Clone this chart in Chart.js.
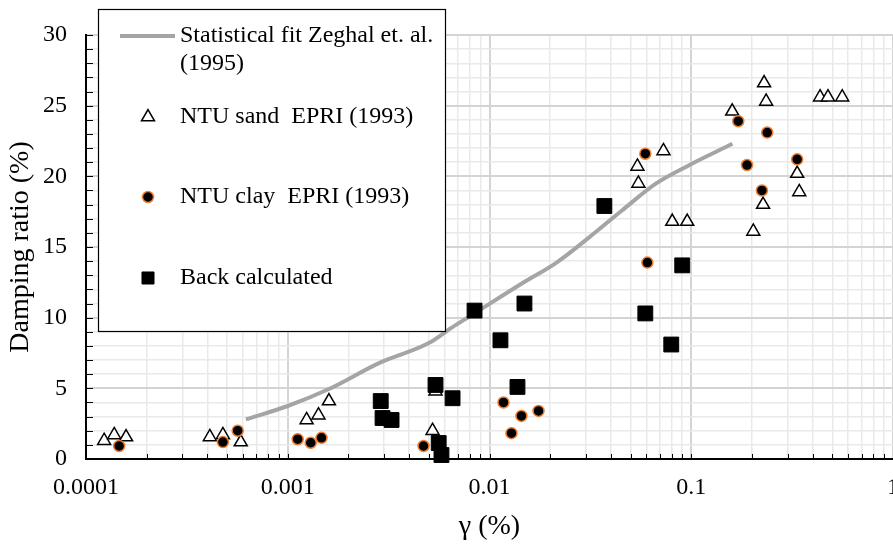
<!DOCTYPE html>
<html>
<head>
<meta charset="utf-8">
<script src="https://cdn.jsdelivr.net/npm/chart.js@4/dist/chart.umd.min.js"></script>
<style>
  html, body { margin: 0; padding: 0; background: #fff; }
  #wrap { width: 893px; height: 544px; }
</style>
</head>
<body>
<div id="wrap"><canvas id="damping"></canvas></div>
<script>
// shear strain (%) vs damping ratio (%)
const fitGamma   = [0.00062, 0.001, 0.0016, 0.00285, 0.005, 0.0065, 0.0082, 0.0146, 0.0215, 0.0313, 0.0455, 0.067, 0.098, 0.16];
const fitDamping = [2.8, 3.75, 4.95, 6.8, 8.2, 9.3, 10.2, 12.45, 13.9, 15.7, 17.6, 19.5, 20.8, 22.3];

const sandGamma   = [0.000123, 0.000138, 0.000158, 0.000411, 0.000477, 0.000585, 0.00124, 0.00142, 0.0016, 0.00522, 0.0054,
                     0.0541, 0.0547, 0.0728, 0.0805, 0.0955, 0.1596, 0.203, 0.227, 0.2297, 0.235, 0.335, 0.343, 0.435, 0.476, 0.56];
const sandDamping = [1.3, 1.7, 1.55, 1.56, 1.7, 1.2, 2.76, 3.1, 4.1, 2.0, 4.8,
                     20.7, 19.5, 21.8, 16.8, 16.8, 24.6, 16.1, 18.0, 26.6, 25.3, 20.2, 18.9, 25.6, 25.6, 25.6];

const clayGamma   = [0.000146, 0.000477, 0.000565, 0.00112, 0.0013, 0.00147, 0.00471, 0.01173, 0.01285, 0.0144, 0.0175,
                     0.0592, 0.0606, 0.171, 0.189, 0.224, 0.238, 0.335];
const clayDamping = [0.92, 1.2, 2.0, 1.4, 1.15, 1.5, 0.92, 4.0, 1.83, 3.05, 3.4,
                     21.6, 13.9, 23.9, 20.8, 19.0, 23.1, 21.2];

const backGamma   = [0.00289, 0.00295, 0.00327, 0.0054, 0.0056, 0.00578, 0.00656, 0.00843, 0.01133, 0.01376, 0.0149,
                     0.0371, 0.0592, 0.0796, 0.0902];
const backDamping = [4.1, 2.9, 2.76, 5.24, 1.13, 0.28, 4.3, 10.5, 8.4, 5.1, 11.0,
                     17.9, 10.3, 8.1, 13.7];

const legendLines = [
  ['Statistical fit Zeghal et. al.', '(1995)'],
  ['NTU sand  EPRI (1993)'],
  ['NTU clay  EPRI (1993)'],
  ['Back calculated']
];

const xTickLabels = ['0.0001', '0.001', '0.01', '0.1', '1'];
const xDecades = [-4, -3, -2, -1];
const yMax = 30;

const FONT = "'Liberation Serif', 'Times New Roman', serif";
const FONT_SIZE = 24;
const TITLE_SIZE = 28;
const toPoints = (xs, ys) => xs.map((v, i) => ({ x: v, y: ys[i] }));

// grid/tick positions: 1..9 per decade on x, every unit on y
const xTickValues = [];
xDecades.forEach(e => { for (let m = 1; m <= 9; m++) xTickValues.push(+(m * Math.pow(10, e)).toPrecision(6)); });
xTickValues.push(1);
const yTickValues = Array.from({ length: yMax + 1 }, (_, i) => i);

const isDecade = v => Math.abs(Math.log10(v) - Math.round(Math.log10(v))) < 1e-9;

// small inward tick marks on both axes
const tickMarks = {
  id: 'tickMarks',
  afterDraw(chart) {
    const { ctx, chartArea, scales: { x, y } } = chart;
    ctx.save();
    ctx.strokeStyle = '#000';
    ctx.lineWidth = 1;
    ctx.beginPath();
    x.ticks.forEach((t, i) => {
      const px = Math.round(x.getPixelForTick(i)) + 0.5;
      ctx.moveTo(px, chartArea.bottom);
      ctx.lineTo(px, chartArea.bottom - 5);
    });
    y.ticks.forEach((t, i) => {
      const py = Math.round(y.getPixelForTick(i)) + 0.5;
      ctx.moveTo(chartArea.left, py);
      ctx.lineTo(chartArea.left + 7, py);
    });
    ctx.stroke();
    ctx.restore();
  }
};

// boxed legend sitting over the upper-left of the plot
const boxLegend = {
  id: 'boxLegend',
  afterDraw(chart) {
    const ctx = chart.ctx;
    const box = { left: 98, top: 9, right: 445, bottom: 331 };
    const rows = [36, 117, 197, 278];
    const markX = 148, textX = 180;
    ctx.save();
    ctx.fillStyle = '#fff';
    ctx.fillRect(box.left, box.top, box.right - box.left, box.bottom - box.top);
    ctx.strokeStyle = '#000';
    ctx.lineWidth = 1.2;
    ctx.strokeRect(box.left + 0.5, box.top + 0.5, box.right - box.left, box.bottom - box.top);

    chart.data.datasets.forEach(ds => {
      const yRow = rows[ds.legendRow];
      if (ds.showLine) {
        ctx.strokeStyle = ds.borderColor;
        ctx.lineWidth = ds.borderWidth;
        ctx.beginPath();
        ctx.moveTo(120, yRow);
        ctx.lineTo(175, yRow);
        ctx.stroke();
      } else {
        ctx.fillStyle = ds.backgroundColor;
        ctx.strokeStyle = ds.borderColor;
        ctx.lineWidth = ds.borderWidth;
        Chart.helpers.drawPoint(ctx, {
          pointStyle: ds.pointStyle,
          radius: ds.legendRadius,
          rotation: 0,
          borderWidth: ds.borderWidth
        }, markX, yRow);
      }
      ctx.fillStyle = '#000';
      ctx.font = FONT_SIZE + 'px ' + FONT;
      ctx.textBaseline = 'middle';
      ctx.textAlign = 'left';
      legendLines[ds.legendRow].forEach((line, k) => {
        ctx.fillText(line, textX, yRow + k * 28);
      });
    });
    ctx.restore();
  }
};

new Chart(document.getElementById('damping'), {
  type: 'scatter',
  data: {
    datasets: [
      {
        label: legendLines[0].join(' '),
        legendRow: 0,
        data: toPoints(fitGamma, fitDamping),
        showLine: true,
        borderColor: '#a5a5a5',
        borderWidth: 4,
        pointRadius: 0,
        cubicInterpolationMode: 'monotone',
        order: 3
      },
      {
        label: legendLines[1][0],
        legendRow: 1,
        data: toPoints(sandGamma, sandDamping),
        pointStyle: 'triangle',
        pointRadius: 7.5,
        legendRadius: 7.5,
        backgroundColor: '#fff',
        borderColor: '#000',
        borderWidth: 1.5,
        order: 2
      },
      {
        label: legendLines[2][0],
        legendRow: 2,
        data: toPoints(clayGamma, clayDamping),
        pointStyle: 'circle',
        pointRadius: 5.5,
        legendRadius: 5.5,
        backgroundColor: '#000',
        borderColor: '#ed7d31',
        borderWidth: 1.5,
        order: 1
      },
      {
        label: legendLines[3][0],
        legendRow: 3,
        data: toPoints(backGamma, backDamping),
        pointStyle: 'rect',
        pointRadius: 10.5,
        legendRadius: 8.5,
        backgroundColor: '#000',
        borderColor: '#000',
        borderWidth: 1,
        clip: false,
        order: 0
      }
    ]
  },
  options: {
    responsive: true,
    maintainAspectRatio: false,
    animation: false,
    layout: { autoPadding: false, padding: { top: 35, right: 0, bottom: 0, left: 0 } },
    plugins: {
      legend: { display: false },
      tooltip: { enabled: false }
    },
    scales: {
      x: {
        type: 'logarithmic',
        min: 0.0001,
        max: 1,
        border: { color: '#000', width: 2 },
        grid: {
          drawTicks: false,
          color: ctx => (ctx.tick && isDecade(ctx.tick.value) ? '#d4d4d4' : '#e9e9e9'),
          lineWidth: ctx => (ctx.tick && isDecade(ctx.tick.value) ? 2 : 1.5)
        },
        afterBuildTicks: s => { s.ticks = xTickValues.map(v => ({ value: v, major: isDecade(v) })); },
        ticks: {
          autoSkip: false,
          maxRotation: 0,
          padding: 14,
          color: '#000',
          font: { family: FONT, size: FONT_SIZE },
          callback: v => (isDecade(v) ? xTickLabels[Math.round(Math.log10(v)) + 4] : '')
        },
        title: {
          display: true,
          text: 'γ (%)',
          color: '#000',
          font: { family: FONT, size: TITLE_SIZE },
          padding: { top: 0, bottom: 1 }
        },
        afterFit: s => { s.height = 85; s.paddingRight = 0; s.paddingLeft = 0; }
      },
      y: {
        min: 0,
        max: yMax,
        border: { color: '#000', width: 2 },
        grid: {
          drawTicks: false,
          color: ctx => (ctx.tick && ctx.tick.value % 5 === 0 ? '#d4d4d4' : '#e9e9e9'),
          lineWidth: ctx => (ctx.tick && ctx.tick.value % 5 === 0 ? 2 : 1.5)
        },
        afterBuildTicks: s => { s.ticks = yTickValues.map(v => ({ value: v })); },
        ticks: {
          autoSkip: false,
          padding: 19,
          color: '#000',
          font: { family: FONT, size: FONT_SIZE },
          callback: v => (v % 5 === 0 ? String(v) : '')
        },
        title: {
          display: true,
          text: 'Damping ratio (%)',
          color: '#000',
          font: { family: FONT, size: TITLE_SIZE },
          padding: { top: 4, bottom: 0 }
        },
        afterFit: s => { s.width = 86; }
      }
    }
  },
  plugins: [tickMarks, boxLegend]
});
</script>
</body>
</html>
